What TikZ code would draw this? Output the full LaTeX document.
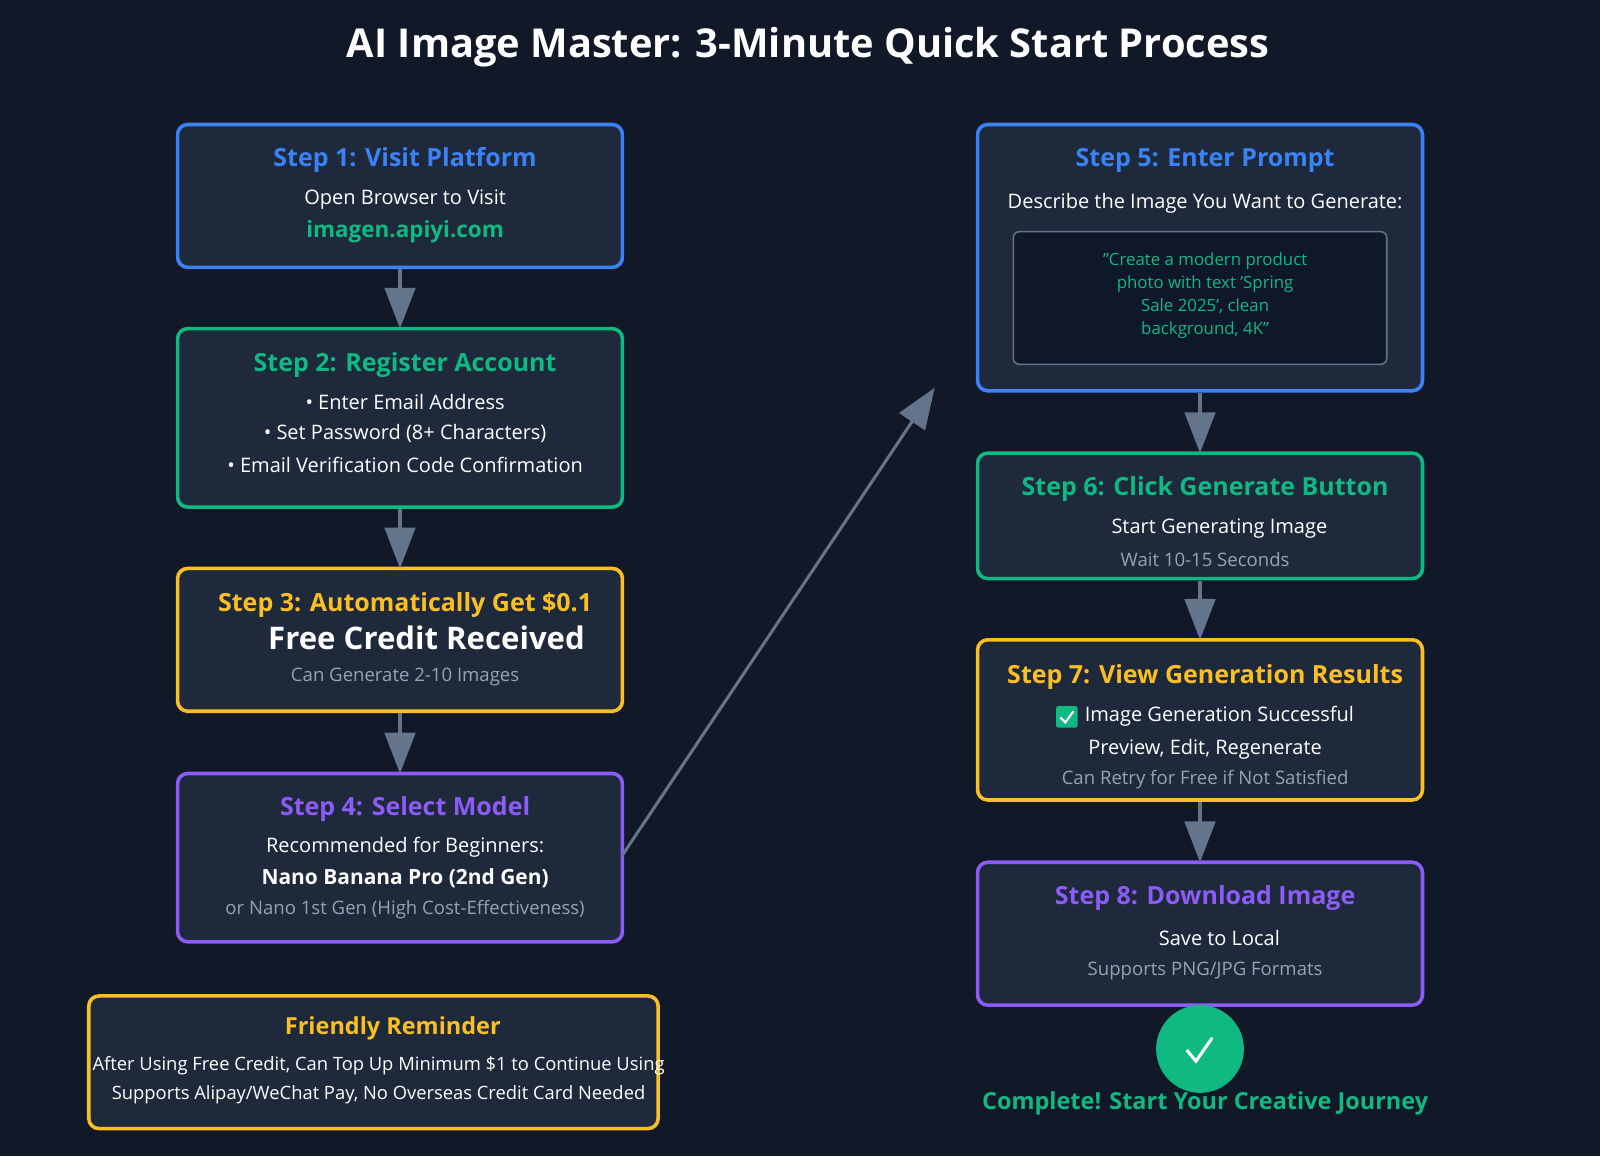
\documentclass[tikz,border=0pt]{standalone}
\usepackage{fontspec}
\setmainfont{Open Sans}
\usetikzlibrary{arrows.meta}
\definecolor{bg}{HTML}{111827}
\definecolor{boxf}{HTML}{1E293B}
\definecolor{inner}{HTML}{0F172A}
\definecolor{cblue}{HTML}{3B82F6}
\definecolor{cgreen}{HTML}{10B981}
\definecolor{cyellow}{HTML}{FBBF24}
\definecolor{cpurple}{HTML}{8B5CF6}
\definecolor{agray}{HTML}{64748B}
\definecolor{sub}{HTML}{94A3B8}
\begin{document}
\begin{tikzpicture}[x=1pt,y=-1pt,
  box/.style={draw=#1,line width=3.5pt,rounded corners=10pt,fill=boxf},
  head/.style={font=\fontsize{24.5}{28}\selectfont\bfseries,text=#1},
  body/.style={font=\fontsize{19.6}{23}\selectfont,text=white},
  small/.style={font=\fontsize{18.2}{21}\selectfont,text=sub},
  arr/.style={draw=agray,line width=3pt,-{Triangle[length=40pt,width=30pt]}}]
\useasboundingbox (0,0) rectangle (1568,1133);
\fill[bg] (0,0) rectangle (1568,1133);
\node[font=\fontsize{39}{44}\selectfont\bfseries,text=white] (title) at (792,46) {AI Image Master: 3-Minute Quick Start Process};
% left column
\draw[box=cblue] (174,122) rectangle (610,262);
\node[head=cblue] (h1) at (397,157) {Step 1: Visit Platform};
\node[body] (t1a) at (397,196) {Open Browser to Visit};
\node[head=cgreen,font=\fontsize{22}{26}\selectfont\bfseries] (t1b) at (397,227) {imagen.apiyi.com};
\draw[box=cgreen] (174,322) rectangle (610,497);
\node[head=cgreen] (h2) at (397,358) {Step 2: Register Account};
\node[body] (t2a) at (397,394) {• Enter Email Address};
\node[body] (t2b) at (397,425) {• Set Password (8+ Characters)};
\node[body] (t2c) at (397,456) {• Email Verification Code Confirmation};
\draw[box=cyellow] (174,557) rectangle (610,697);
\node[head=cyellow] (h3) at (397,593) {Step 3: Automatically Get \$0.1};
\node[font=\fontsize{30.5}{34}\selectfont\bfseries,text=white] (t3a) at (418,625) {Free Credit Received};
\node[small] (t3b) at (397,663) {Can Generate 2-10 Images};
\draw[box=cpurple] (174,758) rectangle (610,923);
\node[head=cpurple] (h4) at (397,793) {Step 4: Select Model};
\node[body] (t4a) at (397,830) {Recommended for Beginners:};
\node[body,font=\fontsize{20.5}{24}\selectfont\bfseries] (t4b) at (397,861) {Nano Banana Pro (2nd Gen)};
\node[small] (t4c) at (397,891) {or Nano 1st Gen (High Cost-Effectiveness)};
\draw[box=cyellow] (87,976) rectangle (645,1106);
\node[head=cyellow,font=\fontsize{23}{26}\selectfont\bfseries] (hr) at (385,1008) {Friendly Reminder};
\node[body,font=\fontsize{18}{21}\selectfont] (tra) at (371,1044) {After Using Free Credit, Can Top Up Minimum \$1 to Continue Using};
\node[body,font=\fontsize{18}{21}\selectfont] (trb) at (371,1073) {Supports Alipay/WeChat Pay, No Overseas Credit Card Needed};
% right column
\draw[box=cblue] (958,122) rectangle (1394,383);
\node[head=cblue] (h5) at (1181,157) {Step 5: Enter Prompt};
\node[body] (t5a) at (1181,199) {Describe the Image You Want to Generate:};
\draw[draw=agray,line width=1.5pt,fill=inner,rounded corners=6pt] (993,227) rectangle (1359,357);
\node[text=cgreen,font=\fontsize{16.5}{22.5}\selectfont,align=center] (t5b) at (1181,290) {"Create a modern product\\photo with text 'Spring\\Sale 2025', clean\\background, 4K"};
\draw[box=cgreen] (958,444) rectangle (1394,567);
\node[head=cgreen] (h6) at (1181,479) {Step 6: Click Generate Button};
\node[body] (t6a) at (1195,518) {Start Generating Image};
\node[small] (t6b) at (1181,548) {Wait 10-15 Seconds};
\draw[box=cyellow] (958,627) rectangle (1394,784);
\node[head=cyellow] (h7) at (1181,663) {Step 7: View Generation Results};
\fill[cgreen,rounded corners=2pt] (1035,692) rectangle (1056,713);
\draw[white,line width=2pt] (1039,703) -- (1044,708) -- (1052,697);
\node[body] (t7a) at (1195,702) {Image Generation Successful};
\node[body] (t7b) at (1181,734) {Preview, Edit, Regenerate};
\node[small] (t7c) at (1181,764) {Can Retry for Free if Not Satisfied};
\draw[box=cpurple] (958,845) rectangle (1394,985);
\node[head=cpurple] (h8) at (1181,880) {Step 8: Download Image};
\node[body] (t8a) at (1195,919) {Save to Local};
\node[small] (t8b) at (1181,952) {Supports PNG/JPG Formats};
\node[circle,fill=cgreen,minimum size=86pt,inner sep=0pt] (done) at (1176,1028) {};
\draw[white,line width=3pt] (1163,1029) -- (1172,1040) -- (1188,1017);
\node[head=cgreen,font=\fontsize{23}{26}\selectfont\bfseries] (tdone) at (1181,1081) {Complete! Start Your Creative Journey};
% arrows
\coordinate (a1s) at (392,264); \coordinate (a1e) at (392,322);
\coordinate (a2s) at (392,499); \coordinate (a2e) at (392,557);
\coordinate (a3s) at (392,699); \coordinate (a3e) at (392,758);
\coordinate (a4s) at (610,838); \coordinate (a4e) at (916,380);
\coordinate (a5s) at (1176,385); \coordinate (a5e) at (1176,444);
\coordinate (a6s) at (1176,569); \coordinate (a6e) at (1176,627);
\coordinate (a7s) at (1176,786); \coordinate (a7e) at (1176,845);
\foreach \i in {1,...,7} \draw[arr] (a\i s) -- (a\i e);
\end{tikzpicture}
\end{document}
